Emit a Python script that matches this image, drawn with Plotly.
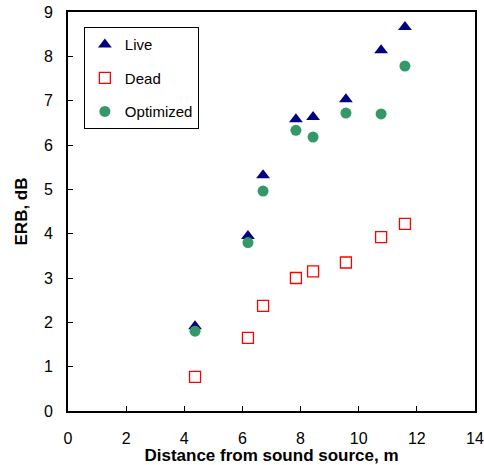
import plotly.graph_objects as go

distance = [4.37, 6.19, 6.71, 7.84, 8.43, 9.56, 10.77, 11.59]
live = [1.91, 3.95, 5.32, 6.58, 6.63, 7.03, 8.14, 8.66]
dead = [0.77, 1.65, 2.37, 3.0, 3.15, 3.35, 3.92, 4.22]
optimized = [1.80, 3.80, 4.96, 6.33, 6.18, 6.72, 6.70, 7.78]

fig = go.Figure()
fig.add_trace(go.Scatter(x=distance, y=live, mode="markers", name="Live", legendgroup="g1",
                         marker=dict(symbol="triangle-up", size=12, color="#000080")))
fig.add_trace(go.Scatter(x=distance, y=dead, mode="markers", name="Dead", legendgroup="g2",
                         marker=dict(symbol="square-open", size=11, color="#FF0000", line=dict(width=1.3))))
fig.add_trace(go.Scatter(x=distance, y=optimized, mode="markers", name="Optimized", legendgroup="g3",
                         marker=dict(symbol="circle", size=11, color="#339966")))

font = "Liberation Sans, Arial, sans-serif"
fig.update_layout(
    width=484, height=465,
    margin=dict(l=68, r=9, t=12, b=54),
    plot_bgcolor="white", paper_bgcolor="white",
    font=dict(family=font, size=16, color="black"),
    showlegend=True,
    legend=dict(x=0.039, y=0.962, xanchor="left", yanchor="top",
                bordercolor="black", borderwidth=1, bgcolor="white",
                font=dict(size=15), tracegroupgap=11, itemwidth=30,
                ),
    xaxis=dict(range=[0, 14], dtick=2, showgrid=False, zeroline=False,
               showline=True, linecolor="black", linewidth=2, mirror=True,
               ticks="inside", ticklen=5, tickcolor="black", automargin=False,
               ticklabelstandoff=12,
               title=dict(text="<b>Distance from sound source, m</b>", standoff=4,
                          font=dict(size=17))),
    yaxis=dict(range=[0, 9], dtick=1, showgrid=False, zeroline=False,
               showline=True, linecolor="black", linewidth=2, mirror=True,
               ticks="inside", ticklen=5, tickcolor="black", automargin=False,
               ticklabelstandoff=10,
               title=dict(text="<b>ERB, dB</b>", standoff=12, font=dict(size=17))),
)
fig.write_html("out.html")
